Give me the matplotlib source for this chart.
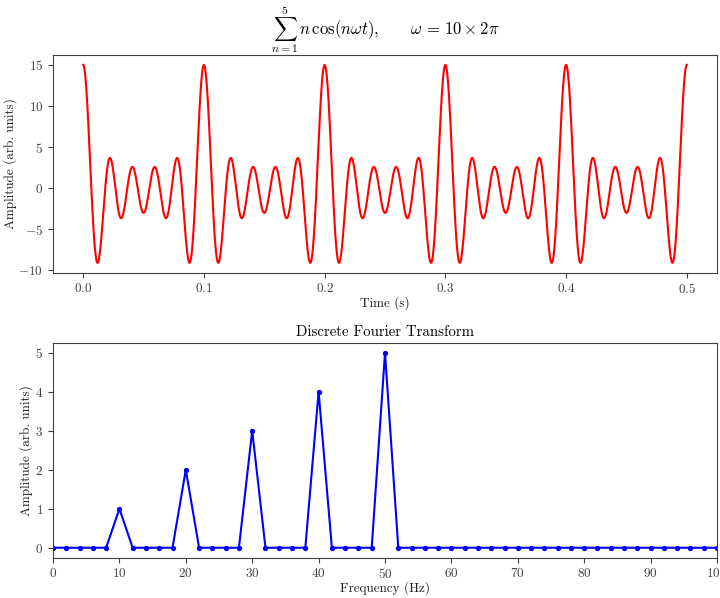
import numpy as np
import matplotlib
matplotlib.use("Agg")
import matplotlib.pyplot as plt

plt.rcParams['mathtext.fontset'] = 'cm'
plt.rcParams['font.family'] = 'serif'
plt.rcParams['font.serif'] = ['cmr10']
plt.rcParams['axes.formatter.use_mathtext'] = True
plt.rcParams['axes.unicode_minus'] = True

# Data
harmonic_n = [1, 2, 3, 4, 5]          # n in sum n cos(n w t)
base_freq_hz = 10                      # omega = 10 x 2pi
t_start, t_end = 0.0, 0.5

dft_freqs = list(range(0, 101, 2))
dft_amps = [0, 0, 0, 0, 0, 1, 0, 0, 0, 0, 2, 0, 0, 0, 0, 3, 0, 0, 0, 0, 4,
            0, 0, 0, 0, 5] + [0] * 25

t = np.linspace(t_start, t_end, 2001)
signal = sum(n * np.cos(n * base_freq_hz * 2 * np.pi * t) for n in harmonic_n)

gray = '#404040'
plt.rcParams['axes.edgecolor'] = gray
plt.rcParams['xtick.color'] = gray
plt.rcParams['ytick.color'] = gray
plt.rcParams['text.color'] = '#202020'
plt.rcParams['axes.labelcolor'] = '#202020'

W, H = 720, 598
fig = plt.figure(figsize=(7.2, 5.98), dpi=100)
ax1 = fig.add_axes([53/W, 1 - 272.7/H, 664/W, 217.7/H])
ax2 = fig.add_axes([53/W, 1 - 557.5/H, 664/W, 214.5/H])

fs = 9.5
ax1.plot(t, signal, color='red', lw=1.5)
ax1.set_xlabel('Time (s)', fontsize=fs)
ax1.set_ylabel('Amplitude (arb. units)', fontsize=fs)
ax1.yaxis.set_label_coords((17 - 53) / 664, 0.5)
ax1.xaxis.set_label_coords(0.5, -(296 - 272.7) / 217.7)
ax1.set_yticks([-10, -5, 0, 5, 10, 15])
ax1.tick_params(labelsize=fs)
ax1.set_title(r'$\sum_{n=1}^{5}\, n\,\cos(n\omega t), \qquad \omega \,=\, 10\times 2\pi$',
              fontsize=12, pad=8, color='black')

ax2.plot(dft_freqs, dft_amps, color='blue', lw=1.5, marker='o', ms=2.8)
ax2.set_xlim(0, 100)
ax2.set_xticks(range(0, 101, 10))
ax2.set_xlabel('Frequency (Hz)', fontsize=fs)
ax2.set_ylabel('Amplitude (arb. units)', fontsize=fs)
ax2.yaxis.set_label_coords((33 - 53) / 664, 0.5)
ax2.xaxis.set_label_coords(0.5, -(581 - 557.5) / 214.5)
ax2.set_title('Discrete Fourier Transform', fontsize=10.7, color='black', pad=5)
ax2.tick_params(labelsize=fs)

fig.savefig('out.png', dpi=100)
